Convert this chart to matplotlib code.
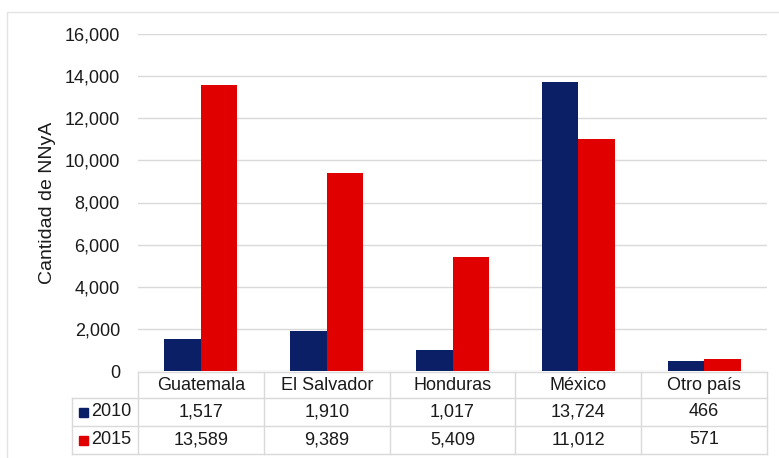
import numpy as np
import matplotlib.pyplot as plt
from matplotlib.transforms import blended_transform_factory
from matplotlib.patches import Rectangle

# -------------------------------------------------
# DATA
# -------------------------------------------------
paises = ["Guatemala", "El Salvador", "Honduras", "México", "Otro país"]
anios = ["2010", "2015"]
nnya_2010 = [1517, 1910, 1017, 13724, 466]
nnya_2015 = [13589, 9389, 5409, 11012, 571]

colores = ["#0b1f66", "#e00000"]
texto = "#1a1a1a"
gris = "#d9d9d9"

plt.rcParams['font.family'] = ['Liberation Sans', 'DejaVu Sans']

W, H = 779, 458
fig = plt.figure(figsize=(W / 100, H / 100), dpi=100)

# overlay in pixel coords for frame / table lines
ov = fig.add_axes([0, 0, 1, 1])
ov.set_xlim(0, W)
ov.set_ylim(H, 0)
ov.axis("off")

# outer frame
ov.add_patch(Rectangle((7, 12), W, H, fill=False, edgecolor="#e3e3e3", lw=1))

# -------------------------------------------------
# BARS
# -------------------------------------------------
x0, x1, y0, y1 = 138, 767, 34, 371
ax = fig.add_axes([x0 / W, 1 - y1 / H, (x1 - x0) / W, (y1 - y0) / H])
ax.set_zorder(2)
ax.patch.set_alpha(0)

x = np.arange(len(paises))
w = 0.29
ax.bar(x - w / 2, nnya_2010, w, color=colores[0])
ax.bar(x + w / 2, nnya_2015, w, color=colores[1])

ax.set_xlim(-0.5, len(paises) - 0.5)
ax.set_ylim(0, 16000)
ax.set_yticks(np.arange(0, 16001, 2000))
ax.set_yticklabels([f"{v:,}" for v in range(0, 16001, 2000)], fontsize=13, color=texto)
ax.tick_params(axis="y", length=0, pad=13)
ax.set_xticks([])
ax.grid(axis="y", color=gris, lw=1)
ax.set_axisbelow(True)
for s in ax.spines.values():
    s.set_visible(False)
ax.set_ylabel("Cantidad de NNyA", fontsize=14, color=texto, labelpad=6)

# -------------------------------------------------
# DATA TABLE
# -------------------------------------------------
tr = blended_transform_factory(ax.transData, ov.transData)
filas = [372, 398, 426, 454]
izq = 72

# horizontal lines
ov.plot([x0, x1], [filas[0], filas[0]], color=gris, lw=1)
for yy in filas[1:]:
    ov.plot([izq, x1], [yy, yy], color=gris, lw=1)
# vertical lines
for k in range(len(paises) + 1):
    ov.plot([k - 0.5, k - 0.5], [filas[0], filas[-1]], color=gris, lw=1,
            transform=tr)
ov.plot([izq, izq], [filas[1], filas[-1]], color=gris, lw=1)

for k, p in enumerate(paises):
    ov.text(k, (filas[0] + filas[1]) / 2, p, transform=tr, ha="center",
            va="center", fontsize=13, color=texto)
    ov.text(k, (filas[1] + filas[2]) / 2, f"{nnya_2010[k]:,}", transform=tr,
            ha="center", va="center", fontsize=13, color=texto)
    ov.text(k, (filas[2] + filas[3]) / 2, f"{nnya_2015[k]:,}", transform=tr,
            ha="center", va="center", fontsize=13, color=texto)

for i, (a, c) in enumerate(zip(anios, colores)):
    yc = (filas[i + 1] + filas[i + 2]) / 2
    ov.add_patch(Rectangle((79, yc - 4), 9, 9, color=c))
    ov.text(91, yc, a, ha="left", va="center", fontsize=13, color=texto)

fig.savefig("out.png", dpi=100)
